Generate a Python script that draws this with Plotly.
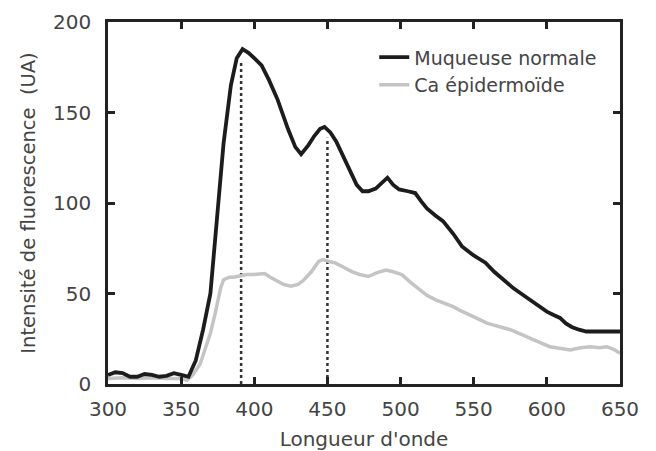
import plotly.graph_objects as go

# Muqueuse normale
normal_wl = [300, 305, 310, 315, 320, 325, 330, 335, 340, 345, 350, 355, 360, 365, 370, 375, 379,
             384, 388, 392, 396, 400, 405, 410, 416, 423, 428, 432, 437, 441, 445, 448, 452, 456,
             464, 470, 474, 478, 483, 487, 491, 495, 499, 505, 510, 514, 518, 524, 529, 536, 542,
             550, 558, 564, 570, 577, 584, 592, 600, 605, 609, 613, 617, 622, 627, 635, 643, 650]
normal_int = [5, 6.5, 6, 4, 4, 5.5, 5, 4, 4.5, 6, 5, 4, 13, 30, 50, 98, 133,
              165, 180, 185, 183, 180, 176, 168, 157, 141, 131, 127, 132, 137, 141, 142, 139, 134,
              120, 110, 106.5, 106.5, 108, 111, 114, 110, 107.5, 106.5, 105.5, 101, 97, 93, 90, 83, 76,
              71, 67, 62, 57.6, 53, 49, 44.5, 40, 38, 36.5, 33.5, 31.5, 30, 29, 29, 29, 29]

# Ca épidermoïde
ca_wl = [300, 310, 320, 330, 340, 350, 354, 358, 363, 367, 370, 373, 375, 377, 379, 383, 386, 391,
         395, 400, 407, 411, 416, 420, 425, 430, 434, 439, 444, 447, 452, 455, 461, 467, 472, 478,
         484, 490, 495, 501, 507, 513, 518, 524, 530, 536, 541, 547, 553, 559, 567, 575, 581, 588,
         595, 602, 609, 616, 623, 630, 636, 641, 646, 650]
ca_int = [3, 3.5, 3, 3.5, 3, 3, 2, 5, 11, 20, 28, 38, 46, 53, 57.6, 59, 59, 60,
          60.5, 60.5, 61, 59, 56.6, 55, 54, 55, 57.6, 62, 67.7, 68.7, 67.5, 67, 64.5, 62, 60.5, 59.4,
          61.5, 63, 62, 60.4, 56, 52, 49, 46.5, 44.5, 42.7, 40.5, 38, 36, 33.6, 32, 30, 28, 25.3,
          23, 20.6, 19.5, 18.8, 20, 20.6, 20, 20.6, 19, 17]

# peak markers (dotted verticals)
peak_wl = [391, 450]
peak_top = [179, 136]

x_ticks = [300, 350, 400, 450, 500, 550, 600, 650]
y_ticks = [0, 50, 100, 150, 200]

FONT = "DejaVu Sans, Arial, sans-serif"
TXT = "#444444"

fig = go.Figure()
for wl, top in zip(peak_wl, peak_top):
    fig.add_trace(go.Scatter(x=[wl, wl], y=[0, top], mode="lines",
                             line=dict(color="#333333", width=2.5, dash="dot"),
                             showlegend=False, hoverinfo="skip"))
fig.add_trace(go.Scatter(x=ca_wl, y=ca_int, mode="lines", name="Ca épidermoïde",
                         line=dict(color="#c4c4c4", width=3.5)))
fig.add_trace(go.Scatter(x=normal_wl, y=normal_int, mode="lines", name="Muqueuse normale",
                         line=dict(color="#1c1c1c", width=3.8)))

axis_common = dict(showline=True, linecolor="#222222", linewidth=2.5, mirror="allticks",
                   ticks="inside", ticklen=7, tickwidth=2.5, tickcolor="#222222",
                   showgrid=False, zeroline=False, automargin=False,
                   tickfont=dict(family=FONT, size=20, color=TXT))

fig.update_layout(
    width=648, height=443,
    margin=dict(l=100, r=36, t=14, b=67),
    paper_bgcolor="white", plot_bgcolor="white",
    font=dict(family=FONT, color=TXT),
    xaxis=dict(range=[300, 650], tickvals=x_ticks, ticklabelstandoff=5,
               title=dict(text="Longueur d'onde", font=dict(family=FONT, size=20, color=TXT),
                          standoff=14),
               **axis_common),
    yaxis=dict(range=[0, 200], tickvals=y_ticks, ticklabelstandoff=10,
               title=dict(text="Intensité de fluorescence \u00a0(UA)",
                          font=dict(family=FONT, size=19.5, color=TXT), standoff=13),
               **axis_common),
    legend=dict(x=0.52, y=0.955, xanchor="left", yanchor="top", traceorder="reversed",
                bgcolor="rgba(0,0,0,0)", font=dict(family=FONT, size=19, color=TXT),
                tracegroupgap=0),
    showlegend=True,
)

fig.write_html("out.html")
